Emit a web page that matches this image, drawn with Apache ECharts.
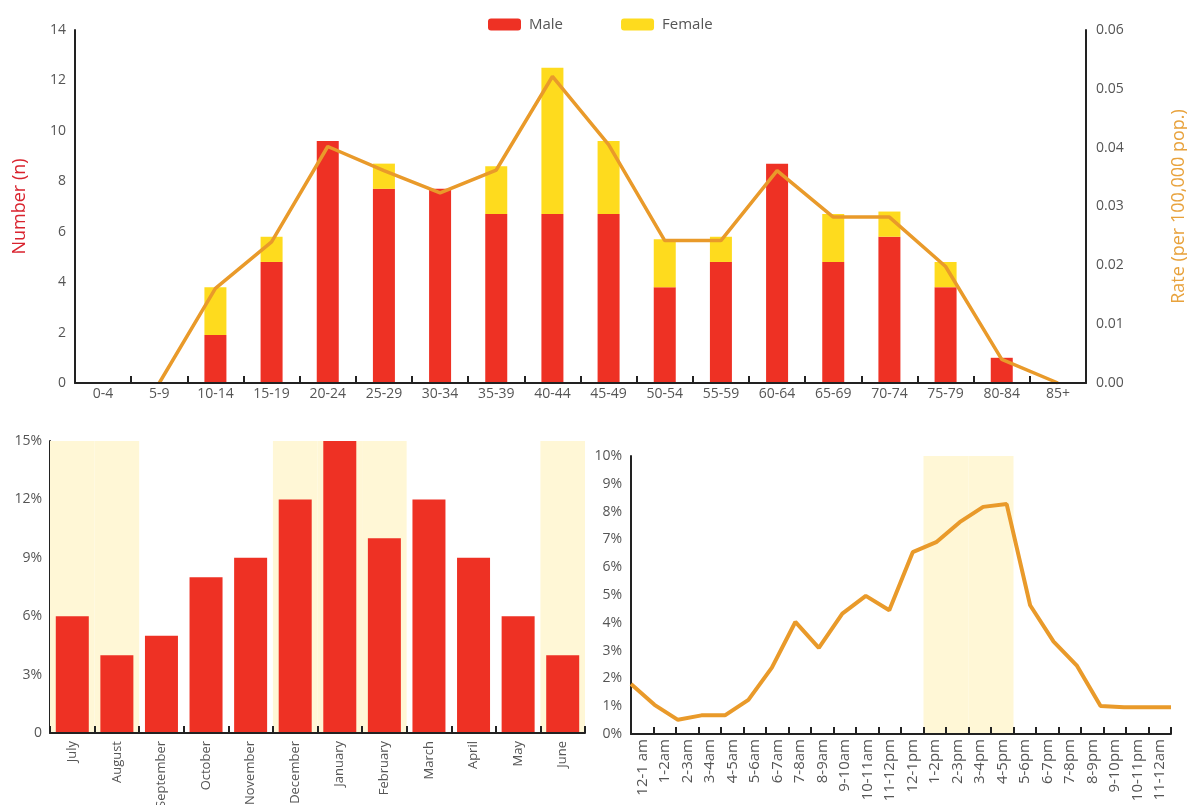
<!DOCTYPE html>
<html>
<head>
<meta charset="utf-8">
<script src="https://cdn.jsdelivr.net/npm/echarts@6/dist/echarts.min.js"></script>
<style>
  html, body { margin: 0; padding: 0; background: #fff; }
  #main { width: 1187px; height: 805px; }
</style>
</head>
<body>
<div id="main"></div>
<script>
// 年龄组数据
var ageGroups = ['0-4', '5-9', '10-14', '15-19', '20-24', '25-29', '30-34', '35-39', '40-44',
    '45-49', '50-54', '55-59', '60-64', '65-69', '70-74', '75-79', '80-84', '85+'];
var maleCount = [0, 0, 1.9, 4.8, 9.6, 7.7, 7.7, 6.7, 6.7, 6.7, 3.8, 4.8, 8.7, 4.8, 5.8, 3.8, 1.0, 0];
var femaleCount = [0, 0, 1.9, 1.0, 0, 1.0, 0, 1.9, 5.8, 2.9, 1.9, 1.0, 0, 1.9, 1.0, 1.0, 0, 0];
var rateValues = [null, 0, 0.0161, 0.0240, 0.0402, 0.0361, 0.0323, 0.0362, 0.0521, 0.0405,
    0.0242, 0.0242, 0.0361, 0.0282, 0.0282, 0.0198, 0.0040, 0];

// 月份数据
var months = ['July', 'August', 'September', 'October', 'November', 'December',
    'January', 'February', 'March', 'April', 'May', 'June'];
var monthPct = [6, 4, 5, 8, 9, 12, 15, 10, 12, 9, 6, 4];
var shadedMonths = ['July', 'August', 'December', 'January', 'February', 'June'];

// 每小时数据
var hours = ['12-1 am', '1-2am', '2-3am', '3-4am', '4-5am', '5-6am', '6-7am', '7-8am', '8-9am',
    '9-10am', '10-11am', '11-12pm', '12-1pm', '1-2pm', '2-3pm', '3-4pm', '4-5pm', '5-6pm',
    '6-7pm', '7-8pm', '8-9pm', '9-10pm', '10-11pm', '11-12am'];
var hourPct = [1.80, 1.05, 0.51, 0.67, 0.67, 1.23, 2.39, 4.03, 3.10, 4.33, 4.97, 4.45,
    6.54, 6.90, 7.62, 8.17, 8.27, 4.63, 3.32, 2.45, 1.01, 0.96, 0.96, 0.96];
var shadedHours = ['1-2pm', '2-3pm', '3-4pm', '4-5pm'];

var RED = '#ee3124';
var YELLOW = '#fedb1e';
var ORANGE = '#e99a2a';
var SHADE = '#fff7d6';
var TEXT = '#555';
var FONT = 'Open Sans';

var myChart = echarts.init(document.getElementById('main'));

var axisLineBlack = { show: true, lineStyle: { color: '#222', width: 2 } };
var tickInside = { show: true, inside: true, length: 7, lineStyle: { color: '#222', width: 2 } };

var option = {
    animation: false,
    textStyle: { fontFamily: FONT },
    legend: {
        data: ['Male', 'Female'],
        left: 483,
        top: 12,
        itemWidth: 33,
        itemHeight: 12,
        itemGap: 58,
        textStyle: { color: TEXT, fontSize: 15, fontFamily: FONT, padding: [0, 0, 0, 3] }
    },
    grid: [
        { left: 75, right: 101, top: 30, bottom: 422, outerBoundsMode: 'none' },
        { left: 50, right: 602, top: 441, bottom: 72, outerBoundsMode: 'none' },
        { left: 631, right: 16, top: 456, bottom: 71, outerBoundsMode: 'none' }
    ],
    xAxis: [
        {
            gridIndex: 0, type: 'category', data: ageGroups,
            axisLine: axisLineBlack, axisTick: tickInside,
            axisLabel: { color: TEXT, fontSize: 14, margin: 4 },
            z: 10
        },
        {
            gridIndex: 1, type: 'category', data: months,
            axisLine: axisLineBlack, axisTick: tickInside,
            axisLabel: { color: TEXT, fontSize: 13, rotate: 90, margin: 8 },
            z: 10
        },
        {
            gridIndex: 1, type: 'category', data: months, show: false
        },
        {
            gridIndex: 2, type: 'category', data: hours,
            axisLine: axisLineBlack, axisTick: tickInside,
            axisLabel: { color: TEXT, fontSize: 15, rotate: 90, margin: 5 },
            z: 10
        },
        {
            gridIndex: 2, type: 'category', data: hours, show: false, boundaryGap: false
        }
    ],
    yAxis: [
        {
            gridIndex: 0, type: 'value', min: 0, max: 14, interval: 2,
            name: 'Number (n)', nameLocation: 'middle', nameGap: 46, nameRotate: 90,
            nameTextStyle: { color: '#d9232e', fontSize: 18, fontFamily: FONT },
            axisLine: axisLineBlack, axisTick: { show: false },
            axisLabel: { color: TEXT, fontSize: 14, margin: 9 },
            splitLine: { show: false }
        },
        {
            gridIndex: 0, type: 'value', min: 0, max: 0.06, interval: 0.01, position: 'right',
            name: 'Rate (per 100,000 pop.)', nameLocation: 'middle', nameGap: 84, nameRotate: 90,
            nameTextStyle: { color: '#e8a23c', fontSize: 18, fontFamily: FONT },
            axisLine: axisLineBlack, axisTick: { show: false },
            axisLabel: { color: TEXT, fontSize: 14, margin: 10, formatter: function (v) { return v.toFixed(2); } },
            splitLine: { show: false }
        },
        {
            gridIndex: 1, type: 'value', min: 0, max: 15, interval: 3,
            axisLine: axisLineBlack, axisTick: { show: false },
            axisLabel: { color: TEXT, fontSize: 14, margin: 8, formatter: function (v) { return v === 0 ? '0' : v + '%'; } },
            splitLine: { show: false }
        },
        {
            gridIndex: 2, type: 'value', min: 0, max: 10, interval: 1,
            axisLine: axisLineBlack, axisTick: { show: false },
            axisLabel: { color: TEXT, fontSize: 14, margin: 9, formatter: '{value}%' },
            splitLine: { show: false }
        }
    ],
    series: [
        {
            name: 'Male', type: 'bar', stack: 'n', xAxisIndex: 0, yAxisIndex: 0,
            data: maleCount, barWidth: 22, itemStyle: { color: RED }
        },
        {
            name: 'Female', type: 'bar', stack: 'n', xAxisIndex: 0, yAxisIndex: 0,
            data: femaleCount, barWidth: 22, itemStyle: { color: YELLOW }
        },
        {
            name: 'Rate', type: 'line', xAxisIndex: 0, yAxisIndex: 1,
            data: rateValues, showSymbol: false, symbol: 'none',
            lineStyle: { color: ORANGE, width: 3.5 }, z: 5
        },
        {
            name: 'monthShade', type: 'bar', xAxisIndex: 2, yAxisIndex: 2,
            data: months.map(function (m) { return shadedMonths.indexOf(m) >= 0 ? 15 : 0; }),
            barWidth: '100%', itemStyle: { color: SHADE }, z: 1, silent: true
        },
        {
            name: 'monthPct', type: 'bar', xAxisIndex: 1, yAxisIndex: 2,
            data: monthPct, barWidth: 33, itemStyle: { color: RED }, z: 3
        },
        {
            name: 'hourShade', type: 'bar', xAxisIndex: 3, yAxisIndex: 3,
            data: hours.map(function (h) { return shadedHours.indexOf(h) >= 0 ? 10 : 0; }),
            barWidth: '100%', itemStyle: { color: SHADE }, z: 1, silent: true
        },
        {
            name: 'hourPct', type: 'line', xAxisIndex: 4, yAxisIndex: 3,
            data: hourPct, showSymbol: false, symbol: 'none',
            lineStyle: { color: ORANGE, width: 4 }, z: 5
        }
    ]
};
myChart.setOption(option);
</script>
</body>
</html>
